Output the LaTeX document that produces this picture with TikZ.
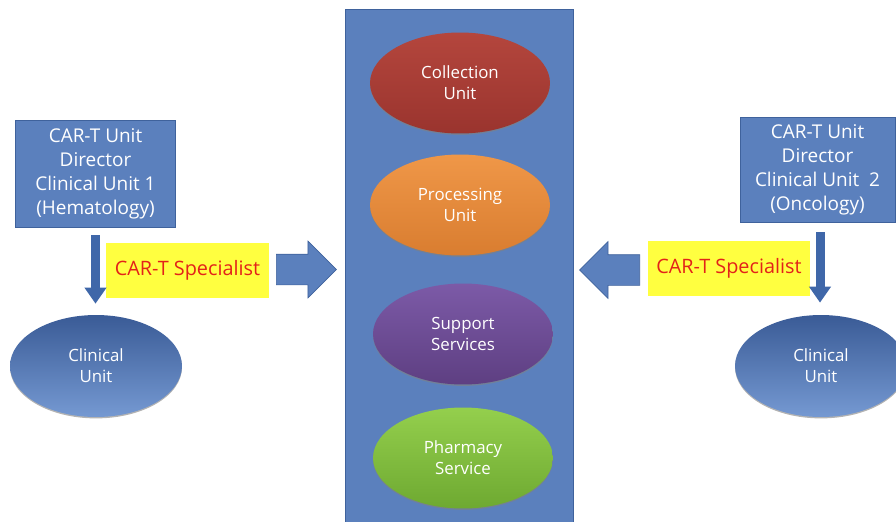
\documentclass[tikz,border=0pt]{standalone}
\usepackage{fontspec}
\setmainfont{Open Sans}
\usetikzlibrary{shapes.geometric,shapes.arrows,arrows.meta,shadows}

\definecolor{panelblue}{HTML}{5B80BD}
\definecolor{paneledge}{HTML}{3F629C}
\definecolor{arrowblue}{HTML}{3F67A9}
\definecolor{specyellow}{HTML}{FFFF40}
\definecolor{specred}{HTML}{E32219}
\definecolor{colltop}{HTML}{B4463D}
\definecolor{collbot}{HTML}{9A342E}
\definecolor{proctop}{HTML}{EF9748}
\definecolor{procbot}{HTML}{D97D30}
\definecolor{supptop}{HTML}{7C5AA7}
\definecolor{suppbot}{HTML}{5E3F82}
\definecolor{pharmtop}{HTML}{94CF4D}
\definecolor{pharmbot}{HTML}{6EA931}
\definecolor{clintop}{HTML}{3A5B96}
\definecolor{clinbot}{HTML}{7599D2}

\begin{document}
\begin{tikzpicture}[x=0.02cm,y=-0.02cm,
  unitbox/.style={draw=paneledge,fill=panelblue,text=white,align=center,
    inner sep=0pt,font=\fontsize{10.8}{13.6}\selectfont},
  service/.style={ellipse,text=white,align=center,inner sep=0pt,
    minimum width=3.6cm,minimum height=2.02cm,
    drop shadow={opacity=0.6,shadow xshift=0pt,shadow yshift=-0.8pt},
    font=\fontsize{9.6}{11.8}\selectfont},
  clinical/.style={service,minimum width=3.44cm,minimum height=2.04cm,
    top color=clintop,bottom color=clinbot},
  specialist/.style={fill=specyellow,text=specred,inner sep=0pt,
    minimum width=3.26cm,minimum height=1.1cm,font=\fontsize{11.3}{12}\selectfont},
  bigarrow/.style={single arrow,draw=paneledge,fill=panelblue,
    inner xsep=0pt,inner ysep=0.3cm,anchor=tail,
    minimum height=1.2cm,single arrow head extend=0.26cm},
  downarrow/.style={draw=arrowblue,line width=0.18cm,
    -{Triangle[width=0.42cm,length=0.32cm]}}]

\useasboundingbox (0,0) rectangle (896,521);

% central panel with the services
\draw[draw=paneledge,fill=panelblue] (345,9) rectangle (573,540);

\node[service,top color=colltop,bottom color=collbot] (coll) at (460,83) {Collection\\Unit};
\node[service,top color=proctop,bottom color=procbot] (proc) at (460,205) {Processing\\Unit};
\node[service,top color=supptop,bottom color=suppbot] (supp) at (463,334) {Support\\Services};
\node[service,top color=pharmtop,bottom color=pharmbot] (pharm) at (463,458) {Pharmacy\\Service};

% left side: hematology
\node[unitbox,minimum width=3.2cm,minimum height=2.14cm] (dir1) at (95.5,173.5)
  {CAR-T Unit\\Director\\Clinical Unit 1\\(Hematology)};
\node[specialist] (spec1) at (187.5,270.5) {CAR-T Specialist};
\node[bigarrow] (arr1) at (276,269.5) {};
\node[clinical] (cu1) at (96,366) {Clinical\\Unit};
\draw[downarrow,shorten <=0.16cm,shorten >=0.22cm] (dir1.south) -- (dir1.south |- cu1.north);

% right side: oncology
\node[unitbox,minimum width=3.1cm,minimum height=2.1cm] (dir2) at (817.5,169.5)
  {CAR-T Unit\\Director\\Clinical Unit\ \ 2\\(Oncology)};
\node[specialist] (spec2) at (729,268.5) {CAR-T Specialist};
\node[bigarrow,shape border rotate=180] (arr2) at (640,270) {};
\node[clinical] (cu2) at (821,366) {Clinical\\Unit};
\draw[downarrow,shorten <=0.2cm,shorten >=0.24cm] (dir2.south) ++(2.5,0) coordinate (d2) -- (d2 |- cu2.north);

\end{tikzpicture}
\end{document}
